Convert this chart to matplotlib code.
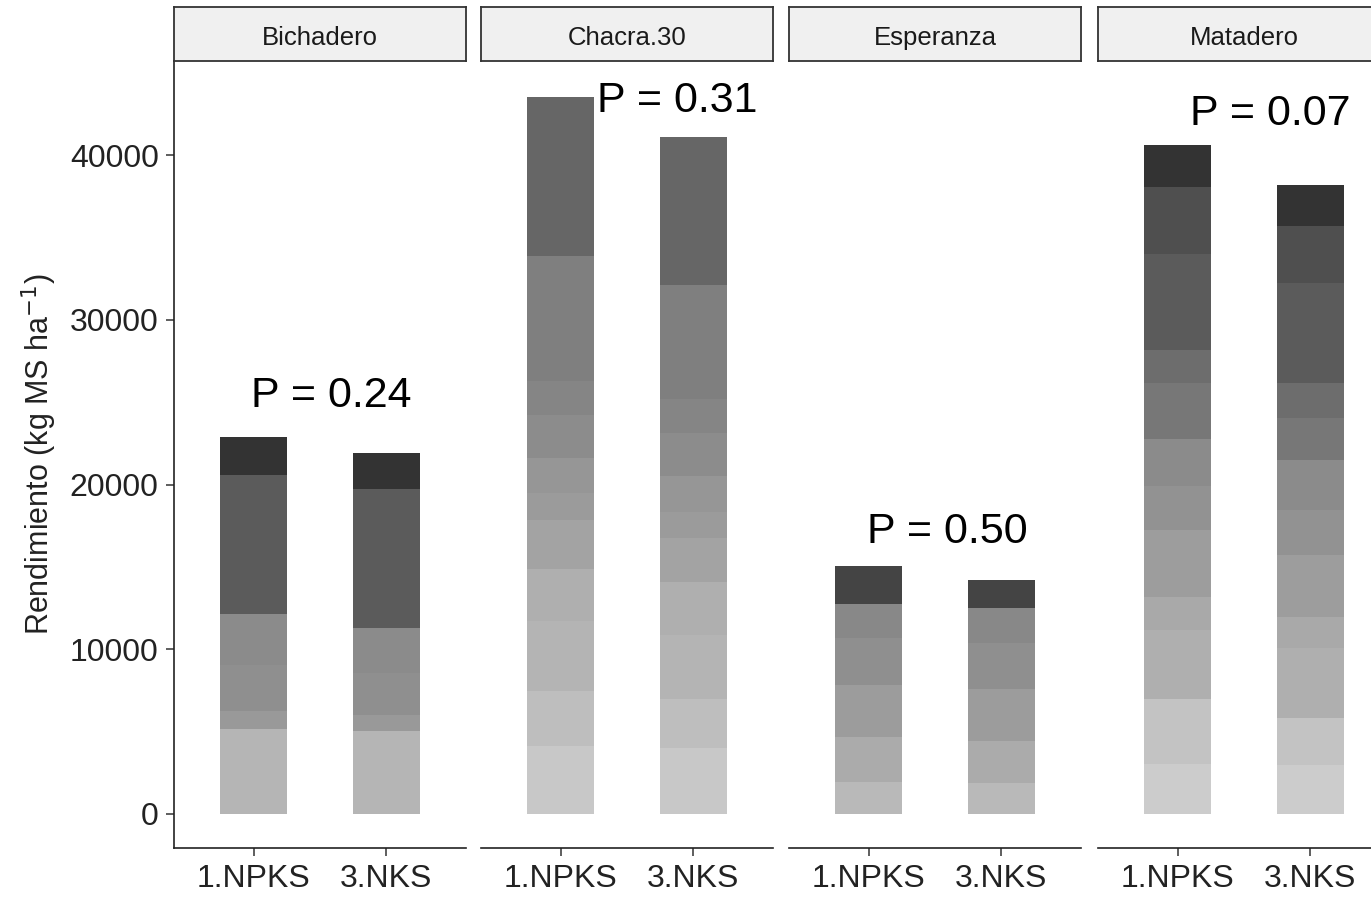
import matplotlib
matplotlib.use("Agg")
import matplotlib.pyplot as plt

plt.rcParams['font.family'] = ['Liberation Sans', 'DejaVu Sans']

sites = ["Bichadero", "Chacra.30", "Esperanza", "Matadero"]
treatments = ["1.NPKS", "3.NKS"]

# stacked segment values (bottom -> top), kg MS/ha
bich_npks = [5159, 1093, 2792, 3077, 8456, 2323]
bich_nks = [5038, 971, 2568, 2695, 8437, 2185]
chac_npks = [4146, 3296, 4297, 3150, 2956, 1633, 2149, 2579, 2089, 7568, 9687]
chac_nks = [4025, 2955, 3885, 3199, 2670, 1616, 2190, 2580, 2088, 6877, 9025]
espe_npks = [1961, 2731, 3138, 2834, 2064, 2325]
espe_nks = [1863, 2568, 3156, 2810, 2088, 1718]
mata_npks = [3023, 3933, 4218, 2009, 4061, 2671, 2835, 3399, 2003, 5828, 4060, 2597]
mata_nks = [2944, 2889, 4273, 1870, 3745, 2725, 3023, 2592, 2088, 6093, 3472, 2465]

bich_cols = ["#b5b5b5", "#999999", "#8f8f8f", "#8b8b8b", "#5b5b5b", "#333333"]
chac_cols = ["#c8c8c8", "#bebebe", "#b4b4b4", "#afafaf", "#a3a3a3", "#9b9b9b",
             "#969696", "#8c8c8c", "#858585", "#7f7f7f", "#666666"]
espe_cols = ["#b9b9b9", "#ababab", "#9c9c9c", "#8f8f8f", "#888888", "#444444"]
mata_cols = ["#cccccc", "#c3c3c3", "#afafaf", "#a9a9a9", "#9d9d9d", "#929292",
             "#8b8b8b", "#777777", "#6d6d6d", "#5b5b5b", "#4f4f4f", "#333333"]

p_labels = ["P = 0.24", "P = 0.31", "P = 0.50", "P = 0.07"]
p_x = [1.587, 1.877, 1.59, 1.696]
p_y = [24700, 42600, 16450, 41800]

data = [(bich_npks, bich_nks, bich_cols), (chac_npks, chac_nks, chac_cols),
        (espe_npks, espe_nks, espe_cols), (mata_npks, mata_nks, mata_cols)]

W, H = 1371, 897
fig = plt.figure(figsize=(W / 100, H / 100), dpi=100)

panel_left = [174, 481, 789, 1098]
panel_w = 292
panel_top = 61
panel_bot = 848
strip_top = 7

text_col = "#222222"

for i, site in enumerate(sites):
    l = panel_left[i]
    ax = fig.add_axes([l / W, (H - panel_bot) / H, panel_w / W, (panel_bot - panel_top) / H])
    npks, nks, cols = data[i]
    for xi, vals in enumerate([npks, nks]):
        bottom = 0
        for v, c in zip(vals, cols):
            ax.bar(xi + 1, v, bottom=bottom, width=0.5, color=c, edgecolor='none', linewidth=0)
            bottom += v
    ax.set_xlim(0.4, 2.6)
    ax.set_ylim(-2064, 45706)
    ax.set_xticks([1, 2])
    ax.set_xticklabels(treatments, fontsize=23, color=text_col)
    ax.tick_params(axis='x', length=5.5, width=1.1, color='#333333', pad=6)
    for s in ['top', 'right']:
        ax.spines[s].set_visible(False)
    ax.spines['bottom'].set_linewidth(1.2)
    ax.spines['bottom'].set_color('#222222')
    if i == 0:
        ax.set_yticks([0, 10000, 20000, 30000, 40000])
        ax.set_yticklabels(["0", "10000", "20000", "30000", "40000"], fontsize=23, color=text_col)
        ax.tick_params(axis='y', length=6, width=1.1, color='#333333', pad=5)
        ax.spines['left'].set_linewidth(1.2)
        ax.spines['left'].set_color('#222222')
        ax.set_ylabel(r"Rendimiento (kg MS ha$^{-1}$)", fontsize=22, color=text_col, labelpad=8)
    else:
        ax.spines['left'].set_visible(False)
        ax.set_yticks([])
    ax.text(p_x[i], p_y[i], p_labels[i], fontsize=31, ha='center', va='baseline', color='black')

    sax = fig.add_axes([l / W, (H - panel_top) / H, panel_w / W, (panel_top - strip_top) / H])
    sax.set_facecolor('#f0f0f0')
    sax.set_xticks([])
    sax.set_yticks([])
    for s in sax.spines.values():
        s.set_linewidth(1.3)
        s.set_color('#333333')
    sax.text(0.5, 0.42, site, transform=sax.transAxes, ha='center', va='center',
             fontsize=18.5, color='#1a1a1a')

fig.savefig("out.png", dpi=100)
